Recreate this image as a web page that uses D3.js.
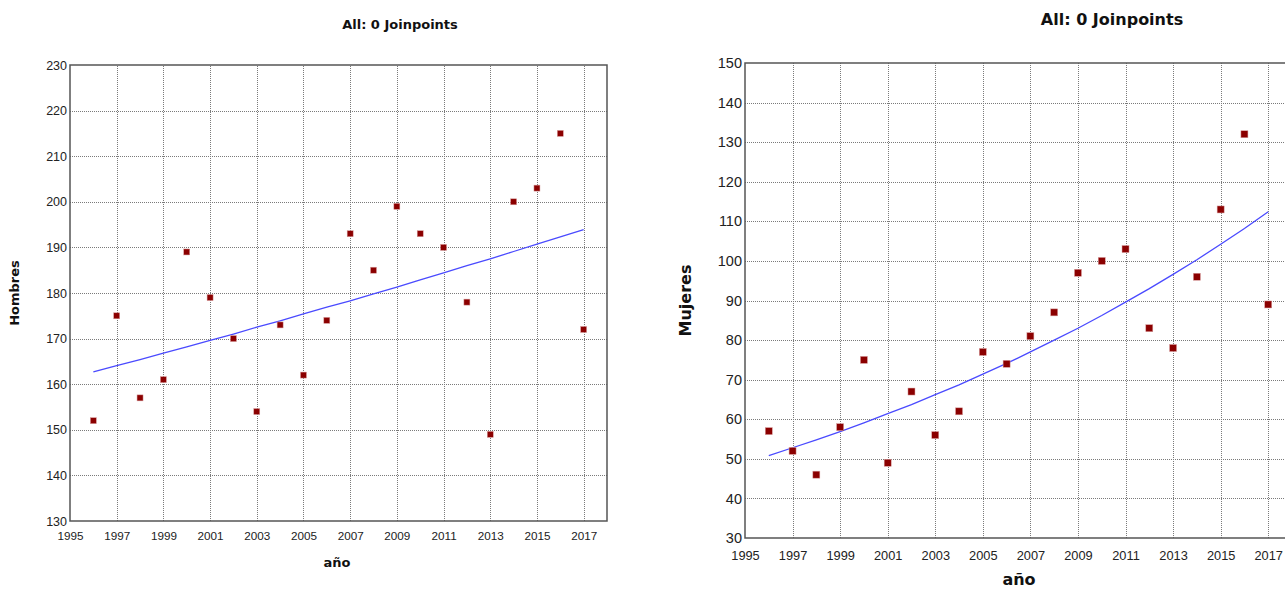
<!DOCTYPE html>
<html>
<head>
<meta charset="utf-8">
<script src="https://cdn.jsdelivr.net/npm/d3@7"></script>
<style>
  body { margin: 0; background: white; overflow: hidden; }
</style>
</head>
<body>
<script>
let years = [1996, 1997, 1998, 1999, 2000, 2001, 2002, 2003, 2004, 2005, 2006,
             2007, 2008, 2009, 2010, 2011, 2012, 2013, 2014, 2015, 2016, 2017]

let hombres = [152, 175, 157, 161, 189, 179, 170, 154, 173, 162, 174,
               193, 185, 199, 193, 190, 178, 149, 200, 203, 215, 172]
let hombresFit = [162.7, 164.1, 165.4, 166.8, 168.2, 169.6, 171.0, 172.5, 173.9, 175.4, 176.9,
                  178.3, 179.8, 181.3, 182.9, 184.4, 186.0, 187.5, 189.1, 190.7, 192.3, 193.9]

let mujeres = [57, 52, 46, 58, 75, 49, 67, 56, 62, 77, 74,
               81, 87, 97, 100, 103, 83, 78, 96, 113, 132, 89]
let mujeresFit = [50.8, 52.8, 54.8, 56.9, 59.1, 61.4, 63.7, 66.2, 68.7, 71.4, 74.1,
                  77.0, 80.0, 83.0, 86.2, 89.6, 93.0, 96.6, 100.3, 104.2, 108.2, 112.4]

let xTicks = [1995, 1997, 1999, 2001, 2003, 2005, 2007, 2009, 2011, 2013, 2015, 2017]
let hombresTicks = [130, 140, 150, 160, 170, 180, 190, 200, 210, 220, 230]
let mujeresTicks = [30, 40, 50, 60, 70, 80, 90, 100, 110, 120, 130, 140, 150]

let title = 'All: 0 Joinpoints'

let svgContainer = d3.select("body").append("svg")
                                    .attr("width", 1285)
                                    .attr("height", 589)

drawPanel({
    left: 70, right: 607, top: 65, bottom: 521,
    yDomain: [130, 230], yTicks: hombresTicks,
    values: hombres, fit: hombresFit, yLabel: 'Hombres',
    yTickFont: 12.5, xTickFont: 11.7, labelFont: 13, titleFont: 13, marker: 6,
    titleX: 400, titleY: 29, yLabelX: 19, xLabelY: 567, xLabelCx: 337, xPad: 11
})

drawPanel({
    left: 745, right: 1292, top: 63, bottom: 538,
    yDomain: [30, 150], yTicks: mujeresTicks,
    values: mujeres, fit: mujeresFit, yLabel: 'Mujeres',
    yTickFont: 14.5, xTickFont: 12.8, labelFont: 16, titleFont: 16, marker: 7,
    titleX: 1112, titleY: 25, yLabelX: 691, xLabelY: 585, xLabelCx: 1019, xPad: 13
})

function drawPanel(cfg) {
    let group = svgContainer.append('g')

    let x = d3.scaleLinear().domain([1995, 2018]).range([cfg.left, cfg.right])
    let y = d3.scaleLinear().domain(cfg.yDomain).range([cfg.bottom, cfg.top])
    let w = cfg.right - cfg.left
    let h = cfg.bottom - cfg.top

    // dotted grid
    let gridX = group.append('g')
                     .attr('transform', `translate(0,${cfg.bottom})`)
                     .call(d3.axisBottom(x).tickValues(xTicks.slice(1)).tickSize(-h).tickFormat(''))
    let gridY = group.append('g')
                     .attr('transform', `translate(${cfg.left},0)`)
                     .call(d3.axisLeft(y).tickValues(cfg.yTicks.slice(1, -1)).tickSize(-w).tickFormat(''))
    for (let g of [gridX, gridY]) {
        g.select('.domain').remove()
        g.selectAll('line')
         .attr('stroke', '#7a7a7a')
         .attr('stroke-width', 1)
         .attr('stroke-dasharray', '1,1')
         .attr('shape-rendering', 'crispEdges')
    }

    // frame
    group.append('rect')
         .attr('x', cfg.left)
         .attr('y', cfg.top)
         .attr('width', w)
         .attr('height', h)
         .attr('fill', 'none')
         .attr('stroke', '#555')
         .attr('stroke-width', 1.5)

    // tick labels
    let xAxis = group.append('g')
                     .attr('transform', `translate(0,${cfg.bottom})`)
                     .call(d3.axisBottom(x).tickValues(xTicks).tickSize(0).tickPadding(cfg.xPad).tickFormat(d3.format('d')))
    xAxis.selectAll('text').attr('font-size', cfg.xTickFont + 'px')
    let yAxis = group.append('g')
                     .attr('transform', `translate(${cfg.left},0)`)
                     .call(d3.axisLeft(y).tickValues(cfg.yTicks).tickSize(0).tickPadding(3))
    yAxis.selectAll('text').attr('font-size', cfg.yTickFont + 'px')
    for (let a of [xAxis, yAxis]) {
        a.select('.domain').remove()
        a.attr('font-size', null)
        a.selectAll('text')
         .attr('fill', '#222')
         .attr('font-family', 'Liberation Sans, Arial, sans-serif')
    }

    // fitted line
    let line = d3.line()
                 .x((d, i) => x(years[i]))
                 .y(d => y(d))
    group.append('path')
         .datum(cfg.fit)
         .attr('d', line)
         .attr('fill', 'none')
         .attr('stroke', '#4a4aff')
         .attr('stroke-width', 1.3)

    // observed points
    group.selectAll('rect.pt')
         .data(cfg.values)
         .enter()
         .append('rect')
         .attr('class', 'pt')
         .attr('x', (d, i) => x(years[i]) - cfg.marker / 2)
         .attr('y', d => y(d) - cfg.marker / 2)
         .attr('width', cfg.marker)
         .attr('height', cfg.marker)
         .attr('fill', '#8b0000')
         .attr('stroke', '#d9a0a0')
         .attr('stroke-width', 0.5)

    // titles
    group.append('text')
         .attr('x', cfg.titleX)
         .attr('y', cfg.titleY)
         .attr('text-anchor', 'middle')
         .attr('font-family', 'DejaVu Sans, Verdana, sans-serif')
         .attr('font-weight', 'bold')
         .attr('font-size', cfg.titleFont + 'px')
         .attr('fill', '#111')
         .text(title)

    group.append('text')
         .attr('x', cfg.xLabelCx)
         .attr('y', cfg.xLabelY)
         .attr('text-anchor', 'middle')
         .attr('font-family', 'DejaVu Sans, Verdana, sans-serif')
         .attr('font-weight', 'bold')
         .attr('font-size', cfg.labelFont + 'px')
         .attr('fill', '#111')
         .text('año')

    group.append('text')
         .attr('transform', `translate(${cfg.yLabelX},${(cfg.top + cfg.bottom) / 2}) rotate(-90)`)
         .attr('text-anchor', 'middle')
         .attr('font-family', 'DejaVu Sans, Verdana, sans-serif')
         .attr('font-weight', 'bold')
         .attr('font-size', cfg.labelFont + 'px')
         .attr('fill', '#111')
         .text(cfg.yLabel)
}
</script>
</body>
</html>
